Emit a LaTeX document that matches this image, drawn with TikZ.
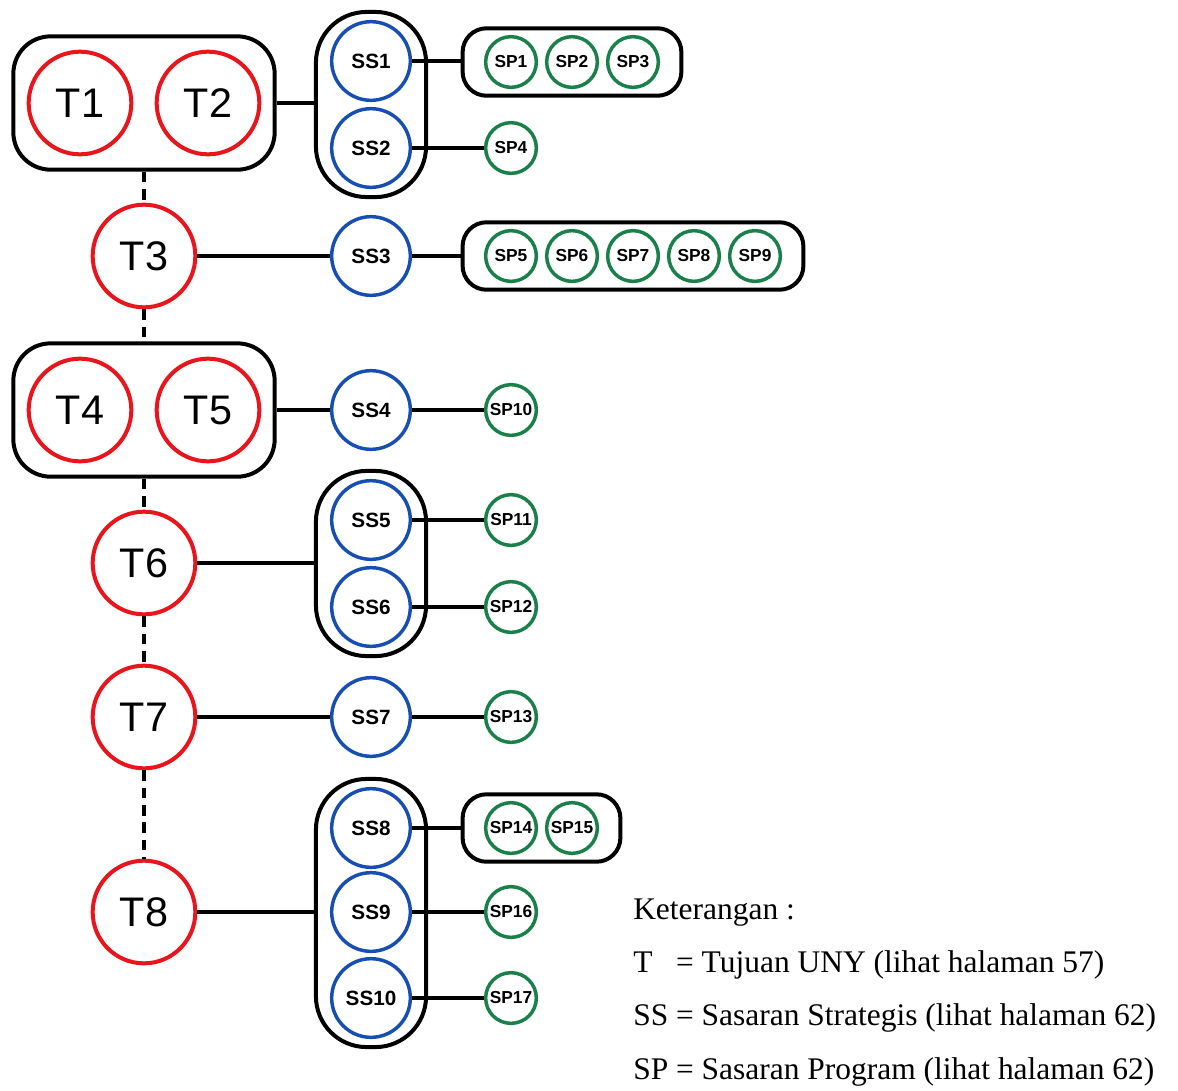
\documentclass[tikz,border=0pt]{standalone}
\usepackage{fontspec}
\setmainfont{Liberation Serif}
\newfontfamily\arialfont{Liberation Sans}
\usetikzlibrary{positioning,fit}
\definecolor{tujuanRed}{RGB}{232,22,28}
\definecolor{sasaranBlue}{RGB}{22,78,178}
\definecolor{programGreen}{RGB}{24,128,72}
\newcommand\colT{144}
\newcommand\colSS{371}
\newcommand\colSP{511}
\newcommand\spGap{61}
\tikzset{
		tujuan/.style =     {circle, draw=tujuanRed, line width=3pt, minimum size=77pt, inner sep=0pt,
		                     font=\arialfont\fontsize{31}{31}\selectfont},
		sasaran/.style =    {circle, draw=sasaranBlue, line width=2.6pt, minimum size=59pt, inner sep=0pt,
		                     font=\arialfont\bfseries\fontsize{15.5}{15.5}\selectfont},
		program/.style =    {circle, draw=programGreen, line width=2.6pt, minimum size=38pt, inner sep=0pt,
		                     font=\arialfont\bfseries\fontsize{13}{13}\selectfont},
		tujuanBox/.style =  {draw, line width=3pt, rounded corners=28pt, inner sep=10pt},
		sasaranBox/.style = {draw, line width=3pt, rounded corners=38pt, inner xsep=10.5pt, inner ysep=6pt},
		programBox/.style = {draw, line width=3pt, rounded corners=18pt, inner xsep=16pt, inner ysep=5pt},
		linkStyle/.style =  {line width=3pt},
		dashLink/.style =   {line width=3pt, dash pattern=on 8pt off 5pt},
		legendText/.style = {inner sep=0pt, anchor=base west, font=\fontsize{23.6}{40}\selectfont}
}

\begin{document}
\begin{tikzpicture}[x=0.75pt, y=-0.75pt]
  \useasboundingbox (0,0) rectangle (1178,1090);

  % Tujuan (goals)
  \node [tujuan] (T1) at (80,103) {T1};
  \node [tujuan] (T2) at (208,103) {T2};
  \node [tujuan] (T3) at (\colT,256) {T3};
  \node [tujuan] (T4) at (80,410) {T4};
  \node [tujuan] (T5) at (208,410) {T5};
  \node [tujuan] (T6) at (\colT,563) {T6};
  \node [tujuan] (T7) at (\colT,717) {T7};
  \node [tujuan] (T8) at (\colT,912) {T8};
  \node [tujuanBox, fit=(T1)(T2)] (boxT12) {};
  \node [tujuanBox, fit=(T4)(T5)] (boxT45) {};

  % Sasaran strategis
  \foreach \i/\y in {1/61, 2/148, 3/256, 4/410, 5/520, 6/607, 7/717, 8/828, 9/912, 10/998}
    \node [sasaran] (SS\i) at (\colSS,\y) {SS\i};
  \node [sasaranBox, fit=(SS1)(SS2)] (boxSS12) {};
  \node [sasaranBox, fit=(SS5)(SS6)] (boxSS56) {};
  \node [sasaranBox, fit=(SS8)(SS10)] (boxSS810) {};

  % Sasaran program, rows inside a box
  \foreach \i [count=\k from 0] in {1,2,3}
    \node [program] (SP\i) at ({\colSP+\spGap*\k},62) {SP\i};
  \foreach \i [count=\k from 0] in {5,...,9}
    \node [program] (SP\i) at ({\colSP+\spGap*\k},256) {SP\i};
  \foreach \i [count=\k from 0] in {14,15}
    \node [program] (SP\i) at ({\colSP+\spGap*\k},828) {SP\i};
  \node [programBox, fit=(SP1)(SP3)] (boxSP13) {};
  \node [programBox, fit=(SP5)(SP9)] (boxSP59) {};
  \node [programBox, fit=(SP14)(SP15)] (boxSP1415) {};

  % Sasaran program, single ones
  \foreach \i/\y in {4/148, 10/410, 11/520, 12/607, 13/717, 16/912, 17/998}
    \node [program] (SP\i) at (\colSP,\y) {SP\i};

  % Links from tujuan to sasaran strategis
  \draw [linkStyle] (boxT12.east) -- (boxT12.east -| boxSS12.west);
  \draw [linkStyle] (T3) -- (SS3);
  \draw [linkStyle] (boxT45) -- (SS4);
  \draw [linkStyle] (T6) -- (T6 -| boxSS56.west);
  \draw [linkStyle] (T7) -- (SS7);
  \draw [linkStyle] (T8) -- (T8 -| boxSS810.west);

  % Links from sasaran strategis to sasaran program
  \draw [linkStyle] (SS1) -- (SS1 -| boxSP13.west);
  \draw [linkStyle] (SS3) -- (SS3 -| boxSP59.west);
  \draw [linkStyle] (SS8) -- (SS8 -| boxSP1415.west);
  \foreach \s/\p in {2/4, 4/10, 5/11, 6/12, 7/13, 9/16, 10/17}
    \draw [linkStyle] (SS\s) -- (SP\p);

  % Dashed chain between tujuan
  \draw [dashLink] (boxT12.south) -- (T3.north);
  \draw [dashLink] (T3.south) -- (boxT45.north);
  \draw [dashLink] (boxT45.south) -- (T6.north);
  \draw [dashLink] (T6.south) -- (T7.north);
  \draw [dashLink] (T7.south) -- (T8.north);

  % Legend
  \node [legendText] (legend) at (633,919) {%
    \begin{tabular}[t]{@{}l@{ }l@{}}
      \multicolumn{2}{@{}l}{Keterangan :}\\
      T  & = Tujuan UNY (lihat halaman 57)\\
      SS & = Sasaran Strategis (lihat halaman 62)\\
      SP & = Sasaran Program (lihat halaman 62)
    \end{tabular}};
\end{tikzpicture}
\end{document}
